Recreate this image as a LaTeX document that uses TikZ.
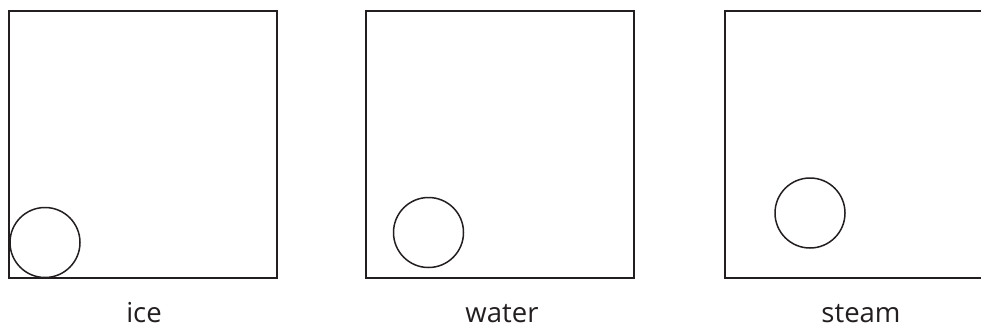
\documentclass[tikz,border=0pt]{standalone}
\usepackage{fontspec}
\setmainfont{Open Sans}
\usepackage{tikz}
\usetikzlibrary{positioning}
\definecolor{ink}{HTML}{231F20}

\begin{document}
\begin{tikzpicture}[x=1pt,y=-1pt,
  chamber/.style={draw=ink, line width=1.9pt},
  particle/.style={draw=ink, line width=1.5pt},
  statelabel/.style={anchor=base, inner sep=0pt, text=ink, font=\fontsize{27.5}{30}\selectfont}]
\useasboundingbox (0,0) rectangle (981,327);
\clip (0,0) rectangle (981,327);
% ice
\draw[chamber] (9,11) rectangle (277,278);
\draw[particle] (45,242.5) circle (35);
\node[statelabel] (ice) at (144,322) {ice};
% water
\draw[chamber] (366,11) rectangle (634,278);
\draw[particle] (428.5,232.5) circle (35);
\node[statelabel] (water) at (502,322) {water};
% steam
\draw[chamber] (725,11) rectangle (993,278);
\draw[particle] (810,213) circle (35);
\node[statelabel] (steam) at (861,322) {steam};
\end{tikzpicture}
\end{document}
